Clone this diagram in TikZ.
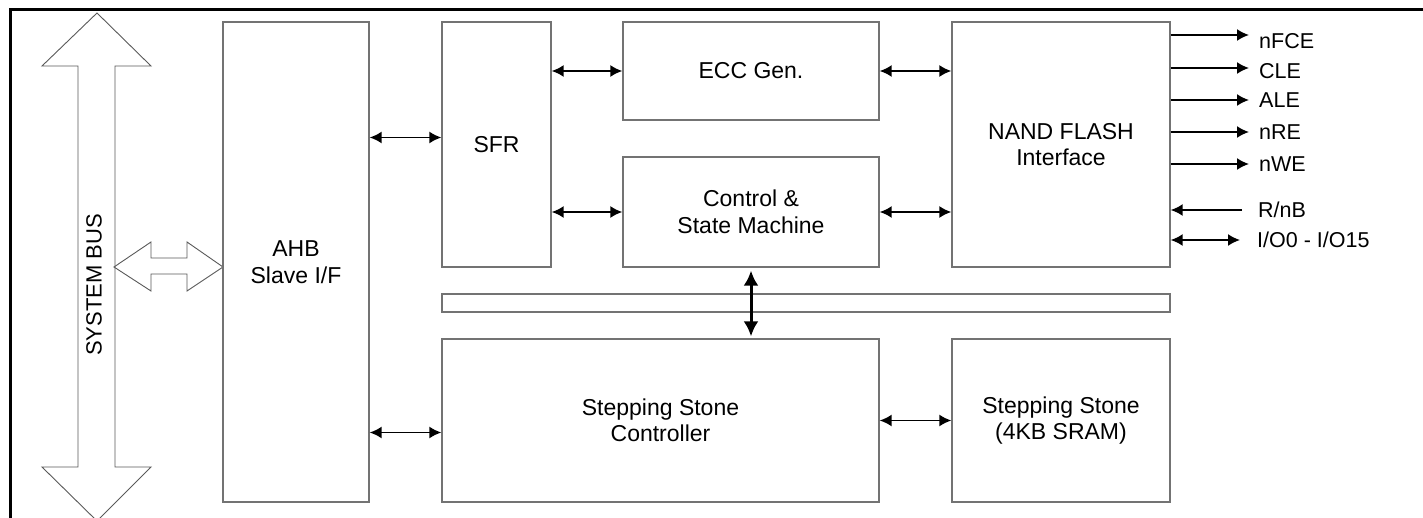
\documentclass[tikz,border=0pt]{standalone}
\usepackage{fontspec}
\setmainfont{Liberation Sans}
\usetikzlibrary{arrows.meta}

\tikzset{
  blk/.style={draw=black!55, line width=1.3pt, align=center, inner sep=0pt,
    font=\fontsize{23}{26.5}\selectfont},
  link/.style={{Latex[length=12pt,width=12pt]}-{Latex[length=12pt,width=12pt]}, line width=1.8pt},
  sigline/.style={-{Latex[length=12pt,width=12pt]}, line width=1.8pt},
  siglbl/.style={anchor=west, inner sep=1pt, font=\fontsize{21.5}{25}\selectfont},
  hollow/.style={draw=black!65, line width=0.9pt, line join=miter}
}

\begin{document}
\begin{tikzpicture}[x=1pt, y=-1pt]
        \useasboundingbox (0,0) rectangle (1423,518);

        % frame
        \draw [line width=3pt] (1423,10) -- (10,10) -- (10,518);

        % system bus
        \draw [hollow] (97,13) -- (151,66) -- (115,66) -- (115,467) -- (151,467) -- (97,521)
          -- (42,467) -- (78,467) -- (78,66) -- (42,66) -- cycle;
        \node [rotate=90, font=\fontsize{22}{26}\selectfont] (sysbus) at (94,285) {SYSTEM BUS};
        \draw [hollow] (114,267) -- (151,242) -- (151,258) -- (187,258) -- (187,242) -- (223,267)
          -- (187,291) -- (187,274) -- (151,274) -- (151,291) -- cycle;

        % blocks
        \node [blk, minimum width=146, minimum height=480] (ahb) at (296,262) {AHB\\Slave I/F};
        \node [blk, minimum width=109, minimum height=245] (sfr) at (496.5,144.5) {SFR};
        \node [blk, minimum width=256, minimum height=98] (ecc) at (751,71) {ECC Gen.};
        \node [blk, minimum width=256, minimum height=110] (ctrl) at (751,212) {Control \&\\State Machine};
        \node [blk, minimum width=218, minimum height=245] (nand) at (1061,144.5) {NAND FLASH\\Interface};
        \node [blk, minimum width=728, minimum height=18] (bar) at (806,303) {};
        \node [blk, minimum width=437, minimum height=163] (ssc) at (660.5,420.5) {Stepping Stone\\Controller};
        \node [blk, minimum width=218, minimum height=163] (sram) at (1061,420.5) {Stepping Stone\\(4KB SRAM)};

        % connections
        \coordinate (sfrin) at ([yshift=7pt]sfr.west);
        \coordinate (sscin) at ([yshift=-12pt]ssc.west);
        \draw [link] (ahb.east |- sfrin) -- (sfrin);
        \draw [link] (sfr.east |- ecc.west) -- (ecc.west);
        \draw [link] (sfr.east |- ctrl.west) -- (ctrl.west);
        \draw [link] (ecc.east) -- (nand.west |- ecc.east);
        \draw [link] (ctrl.east) -- (nand.west |- ctrl.east);
        \draw [link] (ahb.east |- sscin) -- (sscin);
        \draw [link] (ssc.east) -- (sram.west);
        \draw [{Latex[length=15pt,width=15pt]}-{Latex[length=15pt,width=15pt]}, line width=3pt,
          shorten <=3pt, shorten >=2pt] (ctrl.south) -- (ctrl.south |- ssc.north);

        % NAND pins
        \foreach \txt/\ya/\ly [count=\i] in {nFCE/35/41, CLE/68/71, ALE/100/100, nRE/132/132, nWE/164/164} {
          \node [siglbl] (pin\i) at (1258,\ly) {\txt};
          \draw [sigline, shorten >=9pt] (nand.east |- 0,\ya) -- (pin\i.west |- 0,\ya);
        }
        \node [siglbl] (rnb) at (1257,210) {R/nB};
        \draw [sigline, shorten <=15pt] (rnb.west) -- (nand.east |- rnb.west);
        \node [siglbl] (io) at (1256,240) {I/O0 - I/O15};
        \draw [link, shorten >=16pt] (nand.east |- io.west) -- (io.west);
\end{tikzpicture}
\end{document}
